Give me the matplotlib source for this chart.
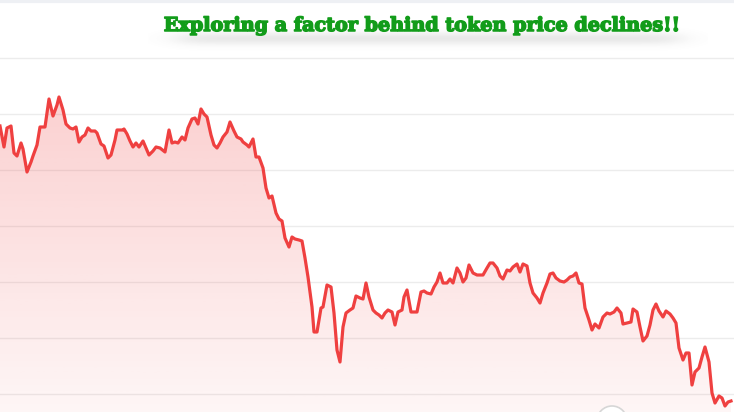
import numpy as np
import matplotlib.pyplot as plt
import matplotlib.patheffects as pe
from matplotlib.patches import Circle

# ---- data (day index, token price in arbitrary units) ----
day = [0, 4, 7, 11, 14, 17, 21, 23, 27, 31, 33, 37, 40, 45, 49, 53, 57, 59, 63, 66, 70, 73, 76, 79, 82, 85, 88,
       91, 95, 97, 101, 104, 108, 111, 115, 117, 123, 124, 127, 130, 133, 136, 139, 143, 146, 149, 153, 156, 160,
       165, 169, 172, 175, 178, 182, 185, 188, 192, 195, 198, 201, 204, 207, 211, 214, 217, 220, 223, 227, 230,
       234, 237, 241, 243, 247, 249, 253, 256, 259, 263, 266, 269, 272, 276, 279, 282, 285, 289, 292, 295, 299,
       302, 305, 308, 312, 314, 317, 321, 323, 327, 331, 334, 337, 340, 343, 346, 350, 353, 356, 360, 363, 366,
       369, 373, 376, 379, 382, 385, 388, 392, 395, 398, 402, 404, 407, 411, 414, 417, 421, 424, 427, 431, 434,
       437, 440, 443, 447, 450, 453, 457, 460, 463, 466, 469, 473, 477, 480, 483, 487, 490, 493, 497, 500, 503,
       507, 510, 513, 517, 520, 523, 527, 530, 533, 537, 540, 543, 547, 550, 553, 556, 560, 564, 567, 570, 573,
       576, 579, 582, 585, 589, 592, 595, 599, 603, 607, 610, 614, 617, 621, 623, 627, 631, 633, 637, 640, 643,
       647, 650, 653, 656, 659, 663, 666, 670, 673, 676, 679, 683, 686, 689, 692, 695, 699, 702, 705, 709, 712,
       715, 719, 722, 725, 728, 731]
price = [286, 265, 284, 286, 259, 256, 269, 263, 240, 250, 256, 267, 285, 285, 313, 296, 307, 315, 302, 288, 284,
         283, 285, 270, 275, 277, 284, 281, 281, 279, 268, 266, 254, 257, 272, 282, 282, 283, 278, 271, 265, 269,
         265, 271, 264, 257, 261, 265, 264, 260, 282, 269, 270, 269, 275, 272, 284, 293, 294, 288, 303, 298, 295,
         277, 267, 264, 269, 275, 280, 290, 281, 275, 273, 270, 267, 265, 273, 255, 255, 244, 224, 214, 216, 199,
         193, 191, 174, 165, 175, 173, 172, 171, 154, 135, 105, 80, 80, 104, 105, 127, 125, 99, 62, 50, 85, 99,
         102, 104, 116, 114, 113, 129, 115, 102, 99, 97, 94, 99, 102, 100, 87, 100, 102, 115, 122, 100, 100, 100,
         120, 121, 119, 118, 125, 130, 139, 129, 129, 133, 129, 144, 139, 130, 134, 147, 139, 137, 137, 137, 144,
         149, 149, 144, 136, 133, 142, 141, 145, 148, 140, 148, 146, 129, 119, 114, 109, 119, 129, 138, 139, 134,
         131, 130, 132, 135, 136, 139, 129, 128, 104, 92, 82, 88, 84, 95, 99, 98, 100, 104, 99, 88, 89, 90, 103,
         100, 85, 71, 76, 87, 102, 108, 101, 95, 101, 98, 94, 89, 64, 52, 59, 59, 27, 40, 44, 55, 65, 50, 19, 9,
         16, 14, 6, 10, 11]
grid_levels = [18, 74, 130, 186, 242, 298, 354]
title = "Exploring a factor behind token price declines!!"

LINE = "#ef4040"
GRID = "#ececec"
GREEN = "#129c1a"

x = np.array(day, dtype=float)
y = np.array(price, dtype=float)

fig = plt.figure(figsize=(7.34, 4.12), dpi=100)
fig.patch.set_facecolor("white")
ax = fig.add_axes([0, 0, 1, 1])
ax.set_xlim(0, 734)
ax.set_ylim(0, 412)
ax.axis("off")

for g in grid_levels:
    ax.axhline(g, color=GRID, lw=1.0, zorder=1)
ax.axhline(411, color="#eef0f4", lw=3, zorder=1)

# gradient fill under the line
top = y.max()
grad = np.linspace(0.05, 0.25, 256).reshape(-1, 1)
rgba = np.zeros((256, 1, 4))
rgba[..., 0] = 239 / 255
rgba[..., 1] = 68 / 255
rgba[..., 2] = 68 / 255
rgba[..., 3] = grad
img = ax.imshow(rgba, extent=(0, 734, 0, top), origin="lower", aspect="auto", zorder=2)
poly = ax.fill_between(x, y, 0, color="none", lw=0)
img.set_clip_path(poly.get_paths()[0], transform=ax.transData)

ax.plot(x, y, color=LINE, lw=2.3, solid_joinstyle="round", zorder=3)

# small ui circle at the bottom
ax.add_patch(Circle((612, -9), 15, facecolor="white", edgecolor="#d6d6d6", lw=1.2,
                    clip_on=False, zorder=4))

# soft blurred shadow band under the title
sw, sh = 560, 40
xx = np.arange(sw) - sw / 2
yy = np.arange(sh) - sh / 2
ex = 1 / (1 + np.exp((np.abs(xx) - 250) / 10))
ey = np.exp(-(yy / 6.5) ** 2)
shadow = np.zeros((sh, sw, 4))
shadow[..., :3] = 0.45
shadow[..., 3] = 0.16 * ey[:, None] * ex[None, :]
fig.figimage(shadow, xo=int(428 - sw / 2), yo=int(412 - 38 - sh / 2), origin="upper", zorder=5)

fig.text(0.574, 1 - 26 / 412, title, ha="center", va="center", color=GREEN,
         fontsize=13.8, fontweight="bold", family="DejaVu Serif", zorder=6,
         path_effects=[pe.withStroke(linewidth=1.1, foreground=GREEN)])

fig.savefig("out.png", dpi=100, facecolor="white")
